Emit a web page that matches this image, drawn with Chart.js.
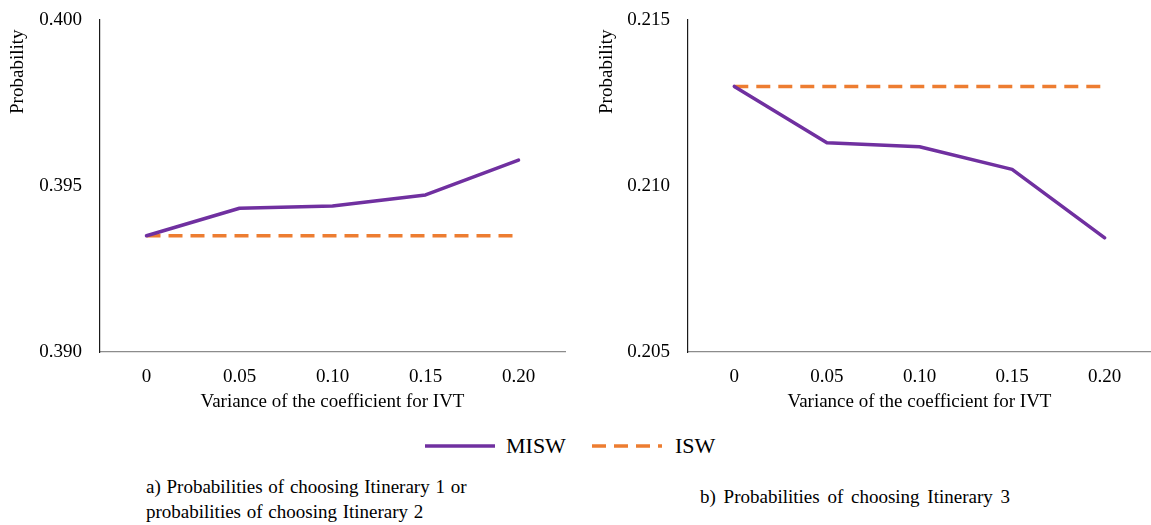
<!DOCTYPE html>
<html>
<head>
<meta charset="utf-8">
<script src="https://cdn.jsdelivr.net/npm/chart.js@4"></script>
<style>
  html, body { margin: 0; padding: 0; background: #fff; }
  body { width: 1151px; height: 525px; position: relative; overflow: hidden; font-family: "Liberation Serif", "Times New Roman", serif; color: #000; }
  .wrap { position: absolute; top: 0; }
  #legend { position: absolute; top: 433px; left: 0; width: 1151px; height: 28px; font-size: 22px; }
  .cap { position: absolute; font-size: 19px; line-height: 25px; word-spacing: 1px; }
</style>
</head>
<body>
<div class="wrap" style="left:0;width:575px;height:430px;"><canvas id="c1" width="575" height="430"></canvas></div>
<div class="wrap" style="left:575px;width:576px;height:430px;"><canvas id="c2" width="576" height="430"></canvas></div>
<div id="legend">
  <svg width="1151" height="28" style="position:absolute;left:0;top:0">
    <line x1="425" y1="13" x2="495" y2="13" stroke="#7030A0" stroke-width="3.5"/>
    <line x1="592" y1="13" x2="662" y2="13" stroke="#ED7D31" stroke-width="3.5" stroke-dasharray="14 8"/>
  </svg>
  <span style="position:absolute;left:506px;top:0px;">MISW</span>
  <span style="position:absolute;left:675px;top:0px;">ISW</span>
</div>
<div class="cap" style="left:146px;top:474px;">a) Probabilities of choosing Itinerary 1 or<br>probabilities of choosing Itinerary 2</div>
<div class="cap" style="left:700px;top:484px;word-spacing:3px;">b) Probabilities of choosing Itinerary 3</div>
<script>
const categories = ['0', '0.05', '0.10', '0.15', '0.20'];
const seriesNames = ['MISW', 'ISW'];

const leftMISW = [0.3935, 0.39433, 0.39440, 0.39473, 0.39578];
const leftISW  = [0.3935, 0.3935, 0.3935, 0.3935, 0.3935];
const leftTicks = [0.390, 0.395, 0.400];

const rightMISW = [0.2130, 0.21130, 0.21118, 0.21050, 0.20844];
const rightISW  = [0.2130, 0.2130, 0.2130, 0.2130, 0.2130];
const rightTicks = [0.205, 0.210, 0.215];

const axisTitleX = 'Variance of the coefficient for IVT';
const axisTitleY = 'Probability';

Chart.defaults.font.family = '"Liberation Serif", "Times New Roman", serif';
Chart.defaults.color = '#000';

function makeChart(id, misw, isw, yTicks, cfg) {
  const tickFont = { size: 19 };
  return new Chart(document.getElementById(id), {
    type: 'line',
    data: {
      labels: categories,
      datasets: [
        { label: seriesNames[0], data: misw, borderColor: '#7030A0', borderWidth: 3.5, pointRadius: 0, tension: 0, fill: false, borderCapStyle: 'round', borderJoinStyle: 'round' },
        { label: seriesNames[1], data: isw, borderColor: '#ED7D31', borderWidth: 3.5, borderDash: [14, 8], pointRadius: 0, tension: 0, fill: false }
      ]
    },
    options: {
      responsive: false,
      animation: false,
      devicePixelRatio: 1,
      layout: { padding: { top: 20, right: cfg.padRight, left: 0, bottom: 0 } },
      plugins: { legend: { display: false }, tooltip: { enabled: false } },
      scales: {
        x: {
          type: 'category',
          offset: true,
          grid: { display: false, drawTicks: false },
          border: { display: true, color: '#8c8c8c', width: 1.2 },
          ticks: { font: tickFont, padding: 14, maxRotation: 0, color: '#000' },
          title: { display: true, text: axisTitleX, font: { size: 19 }, padding: { top: 0, bottom: 17 }, color: '#000' },
          afterFit: s => { s.height = 78; s.paddingLeft = 0; s.paddingRight = 0; }
        },
        y: {
          min: yTicks[0],
          max: yTicks[yTicks.length - 1],
          grid: { display: false, drawTicks: false },
          border: { display: true, color: '#1a1a1a', width: 1.2 },
          afterBuildTicks: s => { s.ticks = yTicks.map(v => ({ value: v })); },
          ticks: { font: tickFont, padding: 18, color: '#000', callback: v => Number(v).toFixed(3) },
          title: { display: true, text: axisTitleY + '  ', align: 'end', font: { size: 19 }, padding: { top: cfg.titlePad, bottom: 0 }, color: '#000' },
          afterFit: s => { s.width = cfg.yWidth; s.paddingTop = 0; s.paddingBottom = 0; }
        }
      }
    }
  });
}

makeChart('c1', leftMISW, leftISW, leftTicks, { yWidth: 100, padRight: 10, titlePad: 7 });
makeChart('c2', rightMISW, rightISW, rightTicks, { yWidth: 113, padRight: 0, titlePad: 21 });
</script>
</body>
</html>
